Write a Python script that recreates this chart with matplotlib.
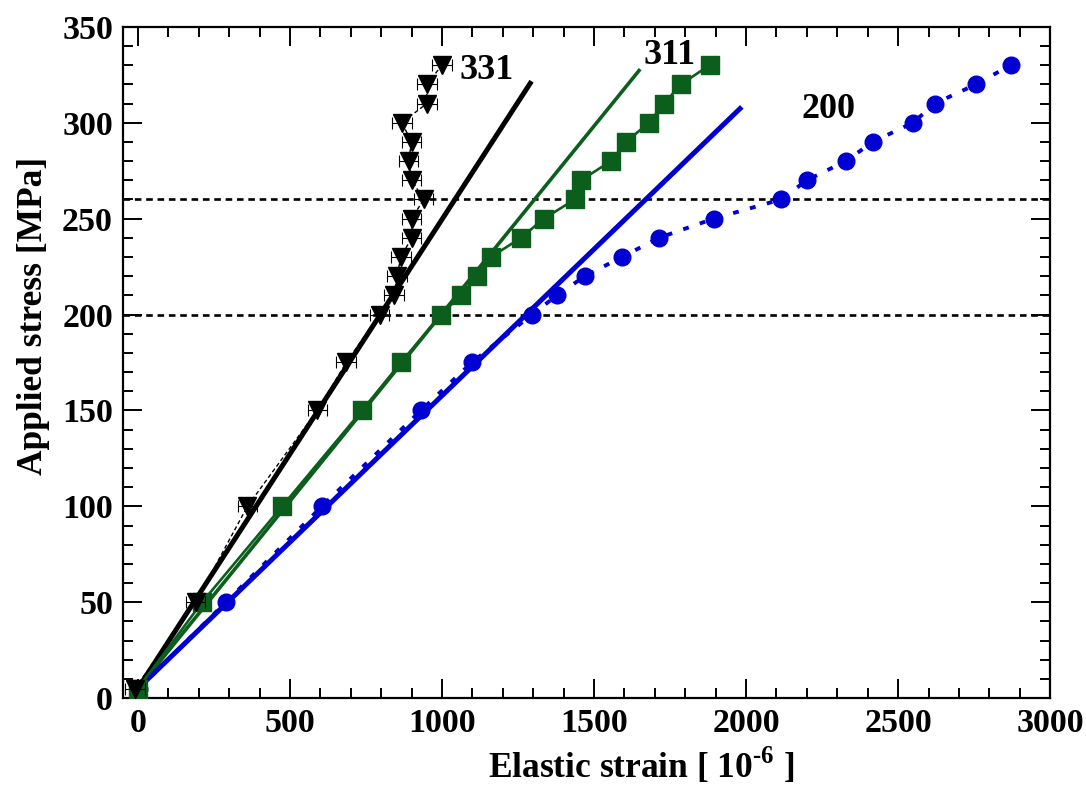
import numpy as np
import matplotlib.pyplot as plt
from matplotlib.ticker import MultipleLocator

plt.rcParams['font.family'] = ['Liberation Serif', 'DejaVu Serif']
plt.rcParams['font.weight'] = 'bold'
plt.rcParams['mathtext.fontset'] = 'custom'
plt.rcParams['mathtext.rm'] = 'Liberation Serif:bold'

# 331 reflection
x331 = [-10, 190, 360, 590, 685, 795, 842, 852, 865, 900, 900, 940, 900, 890, 900, 868, 950, 950, 1000]
y331 = [5, 50, 100, 150, 175, 200, 210, 220, 230, 240, 250, 260, 270, 280, 290, 300, 310, 320, 330]
xerr331 = 32

# 311 reflection
x311 = [0, 211, 474, 737, 865, 997, 1062, 1115, 1161, 1260, 1335, 1437, 1457, 1556, 1605, 1681, 1730, 1786, 1880]
y311 = [5, 50, 100, 150, 175, 200, 210, 220, 230, 240, 250, 260, 270, 280, 290, 300, 310, 320, 330]

# 200 reflection
x200 = [3, 289, 605, 931, 1098, 1296, 1378, 1470, 1592, 1714, 1894, 2115, 2200, 2328, 2417, 2549, 2621, 2756, 2870]
y200 = [5, 50, 100, 150, 175, 200, 210, 220, 230, 240, 250, 260, 270, 280, 290, 300, 310, 320, 330]

# linear elastic fits: (x end, intercept, slope)
fit331 = (1290, 5, 0.2446)
fit311 = (1648, 5, 0.1955)
fit200 = (1980, 5, 0.1527)

hlines = [200, 260]

c_green = '#0b5e1c'
c_blue = '#0000d2'

fig, ax = plt.subplots(figsize=(10.86, 7.88), dpi=100)
fig.subplots_adjust(left=0.113, right=0.967, top=0.966, bottom=0.114)

for yh in hlines:
    ax.axhline(yh, color='k', ls=(0, (2.5, 1.8)), lw=1.9, zorder=1)

for (xe, b, m), c, lw in [(fit331, 'k', 3.6), (fit311, c_green, 2.6), (fit200, c_blue, 3.6)]:
    xx = np.array([0, xe])
    ax.plot(xx, b + m * xx, color=c, lw=lw, zorder=2)

ax.plot(x200, y200, color=c_blue, ls=(0, (1.5, 3)), lw=2.8, marker='o', ms=12, zorder=3)
ax.plot(x311, y311, color=c_green, ls='-', lw=1.9, marker='s', ms=13.5, zorder=3)
ax.errorbar(x331, y331, xerr=xerr331, fmt='none', ecolor='k', elinewidth=0.8, capsize=4, capthick=0.8, zorder=4)
ax.plot(x331, y331, color='k', ls=(0, (3, 2)), lw=1.0, marker='v', ms=12.5, zorder=5)

ax.text(1056, 327, '331', fontsize=26, fontweight='bold', va='center', ha='left')
ax.text(1664, 335, '311', fontsize=26, fontweight='bold', va='center', ha='left')
ax.text(2181, 307, '200', fontsize=26, fontweight='bold', va='center', ha='left')

ax.set_xlim(-50, 3000)
ax.set_ylim(0, 350)
ax.xaxis.set_major_locator(MultipleLocator(500))
ax.xaxis.set_minor_locator(MultipleLocator(100))
ax.yaxis.set_major_locator(MultipleLocator(50))
ax.yaxis.set_minor_locator(MultipleLocator(10))
ax.tick_params(which='both', direction='in', top=True, right=True, width=1.4)
ax.tick_params(which='major', length=14, labelsize=24.5, pad=7)
ax.tick_params(which='minor', length=7)
for s in ax.spines.values():
    s.set_linewidth(1.6)

ax.set_xlabel('Elastic strain [ 10$^{\\text{-6}}$ ]', fontsize=25.5, fontweight='bold')
ax.set_ylabel('Applied stress [MPa]', fontsize=25.5, fontweight='bold')
ax.xaxis.set_label_coords(0.559, -0.071)
ax.yaxis.set_label_coords(-0.078, 0.57)

fig.savefig('out.png', dpi=100)
